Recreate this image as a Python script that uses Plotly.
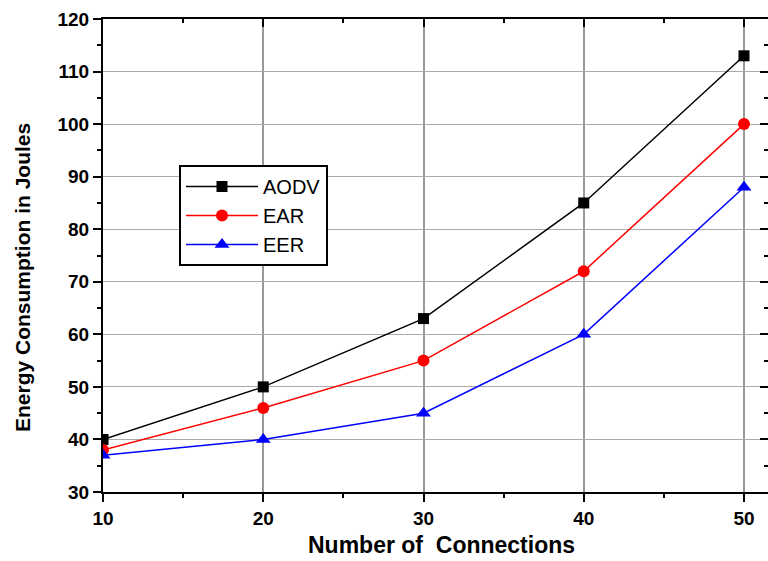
import plotly.graph_objects as go

connections = [10, 20, 30, 40, 50]
aodv = [40, 50, 63, 85, 113]
ear = [38, 46, 55, 72, 100]
eer = [37, 40, 45, 60, 88]
x_ticks = [10, 20, 30, 40, 50]
y_ticks = list(range(30, 121, 10))

FONT = "Arial, Liberation Sans, sans-serif"
L, R, T, B = 103, 0, 19, 69
W, H = 768, 561
PW, PH = W - L - R, H - T - B
xr = [10, 10 + PW / 16.025]
yr = [30, 120]

fig = go.Figure()
fig.add_trace(go.Scatter(x=connections, y=aodv, name="AODV", mode="lines+markers",
                         line=dict(color="black", width=1.5),
                         marker=dict(symbol="square", size=11, color="black")))
fig.add_trace(go.Scatter(x=connections, y=ear, name="EAR", mode="lines+markers",
                         line=dict(color="red", width=1.5),
                         marker=dict(symbol="circle", size=12, color="red")))
fig.add_trace(go.Scatter(x=connections, y=eer, name="EER", mode="lines+markers",
                         line=dict(color="blue", width=1.5),
                         marker=dict(symbol="triangle-up", size=13, color="blue")))
# invisible helper trace for the mirrored top/right axes
fig.add_trace(go.Scatter(x=[connections[0]], y=[aodv[0]], xaxis="x2", yaxis="y2",
                         mode="markers", marker=dict(opacity=0), showlegend=False,
                         hoverinfo="skip"))

tickfont = dict(family=FONT, size=19, color="black")
fig.update_layout(
    width=W, height=H,
    margin=dict(l=L, r=R, t=T, b=B, pad=0),
    paper_bgcolor="white", plot_bgcolor="white",
    showlegend=True,
    legend=dict(x=(179 - L) / PW, y=(H - B - 165) / PH,
                xanchor="left", yanchor="top",
                bgcolor="white", bordercolor="black", borderwidth=2,
                font=dict(family=FONT, size=20, color="black"),
                tracegroupgap=0, itemwidth=72),
    xaxis=dict(range=xr, tickvals=x_ticks, ticktext=[f"<b>{v}</b>" for v in x_ticks],
               ticks="outside", ticklen=8,
               tickwidth=2, tickcolor="black", showline=True, linecolor="black",
               linewidth=2, showgrid=True, gridcolor="#999999", gridwidth=1.5,
               zeroline=False, tickfont=tickfont,
               minor=dict(tickvals=[15, 25, 35, 45], ticks="outside", ticklen=4,
                          tickwidth=2, tickcolor="black", showgrid=False)),
    yaxis=dict(range=yr, tickvals=y_ticks, ticktext=[f"<b>{v}</b>" for v in y_ticks],
               ticks="outside", ticklen=8,
               tickwidth=2, tickcolor="black", showline=True, linecolor="black",
               linewidth=2, showgrid=True, gridcolor="#aaaaaa", gridwidth=1,
               zeroline=False, tickfont=tickfont,
               minor=dict(tickvals=list(range(35, 120, 10)), ticks="outside", ticklen=4,
                          tickwidth=2, tickcolor="black", showgrid=False)),
    xaxis2=dict(range=xr, overlaying="x", side="top", anchor="y", tickvals=x_ticks,
                ticks="inside", ticklen=8, tickwidth=2, tickcolor="black",
                showticklabels=False, showline=True, linecolor="black", linewidth=2,
                showgrid=False, zeroline=False,
                minor=dict(tickvals=[15, 25, 35, 45], ticks="inside", ticklen=4,
                           tickwidth=2, tickcolor="black")),
    yaxis2=dict(range=yr, overlaying="y", side="right", anchor="x", tickvals=y_ticks,
                ticks="inside", ticklen=8, tickwidth=2, tickcolor="black",
                showticklabels=False, showline=True, linecolor="black", linewidth=2,
                showgrid=False, zeroline=False,
                minor=dict(tickvals=list(range(35, 120, 10)), ticks="inside", ticklen=4,
                           tickwidth=2, tickcolor="black")),
    annotations=[
        dict(text="<b>Number of  Connections</b>", xref="paper", yref="paper",
             x=(441 - L) / PW, y=-(545 - (H - B)) / PH, xanchor="center", yanchor="middle",
             showarrow=False,
             font=dict(family=FONT, size=23, color="black")),
        dict(text="<b>Energy Consumption in Joules</b>", xref="paper", yref="paper",
             x=-(L - 22) / PW, y=(H - B - 278) / PH, xanchor="center", yanchor="middle",
             textangle=-90, showarrow=False,
             font=dict(family=FONT, size=21, color="black")),
    ],
)

fig.write_html("out.html")
